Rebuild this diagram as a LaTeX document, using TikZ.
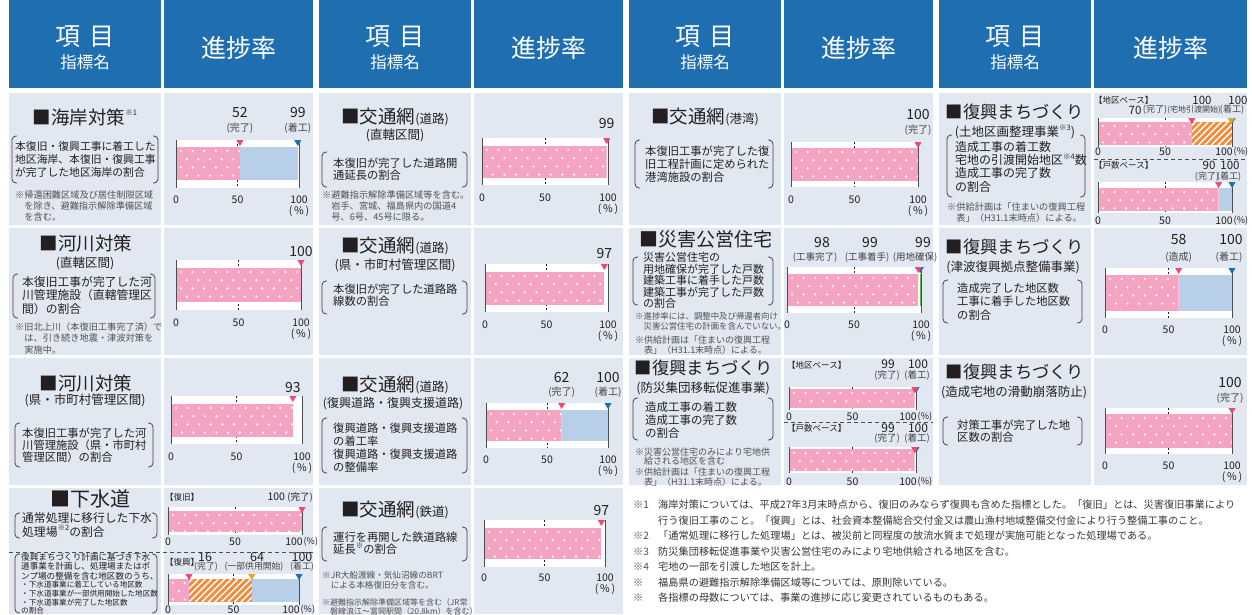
\documentclass[tikz,border=0pt]{standalone}
\usepackage{fontspec}
\setmainfont{Noto Sans CJK JP}
\usetikzlibrary{positioning}

\definecolor{headblue}{RGB}{31,111,176}
\definecolor{cellbg}{RGB}{225,232,242}
\definecolor{ink}{RGB}{35,31,32}
\definecolor{notegray}{RGB}{80,80,80}
\definecolor{pinkfill}{RGB}{244,164,192}
\definecolor{bluefill}{RGB}{184,207,234}
\definecolor{orangefill}{RGB}{241,140,60}
\definecolor{pinkmark}{RGB}{232,74,122}
\definecolor{bluemark}{RGB}{24,114,178}
\definecolor{orangemark}{RGB}{234,165,30}
\definecolor{greenmark}{RGB}{90,180,70}

\tikzset{
  cell/.style={fill=cellbg},
  headbig/.style={text=white, inner sep=0pt, font=\fontsize{25}{26}\selectfont},
  headsmall/.style={text=white, inner sep=0pt, font=\fontsize{16.5}{17}\selectfont},
  ttl/.style={text=ink, inner sep=0pt, font=\fontsize{18.5}{20}\selectfont},
  ttlm/.style={ttl, font=\fontsize{17.3}{19}\selectfont},
  sub/.style={text=ink, inner sep=0pt, font=\fontsize{12.5}{14}\selectfont},
  body/.style={text=ink, inner sep=0pt, align=left, anchor=north west, font=\fontsize{11.3}{12.5}\selectfont},
  note/.style={text=notegray, inner sep=0pt, align=left, anchor=north west, font=\fontsize{9.2}{11.3}\selectfont},
  num/.style={text=ink, inner sep=0pt, font=\fontsize{14}{15}\selectfont},
  vcap/.style={text=ink!85, inner sep=0pt, font=\fontsize{10}{11}\selectfont},
  tagl/.style={text=ink, inner sep=0pt, anchor=west, font=\fontsize{8.5}{9}\selectfont},
  axisnum/.style={text=ink, inner sep=0pt, font=\fontsize{10.5}{11}\selectfont},
  pct/.style={text=ink, inner sep=0pt, font=\fontsize{10.5}{11}\selectfont},
  brkline/.style={draw=ink!85, line width=0.8pt, rounded corners=4pt},
  tickline/.style={ink, dash pattern=on 2pt off 2pt, line width=0.7pt},
  axisline/.style={ink!80, line width=0.8pt},
  sepline/.style={ink!80, dash pattern=on 4pt off 3pt, line width=0.8pt},
  foot/.style={text=ink!90, inner sep=0pt, align=left, anchor=north west, font=\fontsize{10.2}{15.5}\selectfont}
}

\newcommand{\sups}[1]{\raisebox{0.45em}{\fontsize{7.5}{8}\selectfont #1}}
\newcommand{\tsub}[1]{{\fontsize{12.5}{13}\selectfont #1}}
\newcommand{\fmark}[1]{\makebox[25pt][l]{\textcolor{notegray}{#1}}}
\newcommand{\brk}[4]{%
  \draw[brkline] ({#1+5},#3) -- (#1,#3) -- (#1,#4) -- ({#1+5},#4);
  \draw[brkline] ({#2-5},#3) -- (#2,#3) -- (#2,#4) -- ({#2-5},#4);}
\newcommand{\vx}[1]{\cxa+(\cxb-\cxa)*#1/100}
\newcommand{\setchart}[7]{\def\cn{#1}\def\cxa{#2}\def\cxb{#3}\def\cyt{#4}\def\cyb{#5}\def\cbt{#6}\def\cbb{#7}%
  \fill[white] (\cxa,\cyt) rectangle (\cxb,\cyb);
  \draw[tickline] ({(\cxa+\cxb)/2},\cyt) -- ({(\cxa+\cxb)/2},\cyb);}
\newcommand{\closechart}{%
  \draw[axisline] (\cxa,\cyt) -- (\cxa,\cyb);
  \draw[axisline] (\cxb,\cyt) -- (\cxb,\cyb);}
\newcommand{\dotbar}[2]{%
  \begin{scope}
    \clip ({\vx{#1}},\cbt) rectangle ({\vx{#2}},\cbb);
    \fill[pinkfill] ({\vx{#1}},\cbt) rectangle ({\vx{#2}},\cbb);
    \foreach \dr in {0,...,4}{\foreach \dc in {0,...,11}{
      \fill[white] ({\cxa+5+11.6*\dc+5.8*mod(\dr,2)},{\cbt+4+8.2*\dr}) circle (1.2pt);}}
  \end{scope}}
\newcommand{\bluebar}[2]{\fill[bluefill] ({\vx{#1}},\cbt) rectangle ({\vx{#2}},\cbb);}
\newcommand{\hatchbar}[2]{%
  \begin{scope}
    \clip ({\vx{#1}},\cbt) rectangle ({\vx{#2}},\cbb);
    \fill[orangefill] ({\vx{#1}},\cbt) rectangle ({\vx{#2}},\cbb);
    \foreach \k in {-7,...,14}{
      \draw[white, line width=1.4pt] ({\vx{#1}+6.5*\k},\cbb) -- ({\vx{#1}+6.5*\k+\cbb-\cbt},\cbt);}
  \end{scope}}
\newcommand{\tri}[2]{\fill[#2] ({\vx{#1}-3.6},\cyt) -- ({\vx{#1}+3.6},\cyt) -- ({\vx{#1}},{\cyt+6}) -- cycle;}
\newcommand{\axisA}[1]{%
  \node[axisnum] (\cn-0) at (\cxa,#1) {0};
  \node[axisnum] (\cn-50) at ({(\cxa+\cxb)/2},#1) {50};
  \node[axisnum] (\cn-100) at (\cxb,#1) {100};
  \node[pct, below=1.5pt of \cn-100] (\cn-pc) {(\,\%\,)};}
\newcommand{\axisB}[1]{%
  \node[axisnum] (\cn-0) at (\cxa,#1) {0};
  \node[axisnum] (\cn-50) at ({(\cxa+\cxb)/2},#1) {50};
  \node[axisnum, anchor=east] (\cn-100) at ({\cxb+1},#1) {100};
  \node[pct, font=\fontsize{9}{10}\selectfont, right=0.5pt of \cn-100] (\cn-pc) {(\%)};}

\begin{document}
\begin{tikzpicture}[x=1pt,y=-1pt]
\useasboundingbox (0,0) rectangle (1252,614);
\fill[white] (0,0) rectangle (1252,614);

\foreach \gx/\gw in {9/304,319/304,629/304,939/308}{
  \fill[headblue] (\gx,0) rectangle ({\gx+152},88);
  \fill[headblue] ({\gx+155},0) rectangle ({\gx+\gw},88);
  \node[headbig] (hk\gx) at ({\gx+76},37) {項\hspace{0.35em}目};
  \node[headsmall] (hs\gx) at ({\gx+76},62) {指標名};
  \node[headbig] (hp\gx) at ({\gx+155+(\gw-155)/2},48) {進捗率};
}
\foreach \gx in {9,319}{\foreach \ya/\yb in {93/225,228/355,358/485,488/614}{
  \fill[cell] (\gx,\ya) rectangle ({\gx+152},\yb);
  \fill[cell] ({\gx+155},\ya) rectangle ({\gx+304},\yb);}}
\foreach \gx/\gw in {629/304,939/308}{\foreach \ya/\yb in {93/225,228/355,358/485}{
  \fill[cell] (\gx,\ya) rectangle ({\gx+152},\yb);
  \fill[cell] ({\gx+155},\ya) rectangle ({\gx+\gw},\yb);}}

% 海岸対策
\node[ttl] (t11) at (85,117) {■海岸対策\sups{※1}};
\brk{12}{158}{136}{183}
\node[body, font=\fontsize{10.8}{12.6}\selectfont] (b11) at (15,141.6) {本復旧・復興工事に着工した\\地区海岸、本復旧・復興工事\\が完了した地区海岸の割合};
\node[note] (n11) at (15,190.4) {※帰還困難区域及び居住制限区域\\\phantom{※}を除き、避難指示解除準備区域\\\phantom{※}を含む。};
\setchart{c11}{176}{299}{140}{188}{147}{180}
\dotbar{0}{52}\bluebar{52}{99}\closechart
\tri{52}{pinkmark}\tri{99}{bluemark}
\node[num] (c11-v1) at ({\vx{52}},113) {52};
\node[vcap] (c11-l1) at ({\vx{52}},128) {(完了)};
\node[num] (c11-v2) at ({\vx{99}},113) {99};
\node[vcap] (c11-l2) at ({\vx{99}},128) {(着工)};
\axisA{200}

% 河川対策（直轄）
\node[ttl] (t12) at (86,243) {■河川対策};
\node[sub] (s12) at (85,263) {(直轄区間)};
\brk{13}{155}{274}{318}
\node[body, font=\fontsize{11.8}{13.5}\selectfont] (b12) at (22,276.1) {本復旧工事が完了した河\\川管理施設（直轄管理区\\間）の割合};
\node[note] (n12) at (15,322.4) {※旧北上川（本復旧工事完了済）で\\\phantom{※}は、引き続き地震・津波対策を\\\phantom{※}実施中。};
\setchart{c12}{176}{301}{260}{310}{268}{302}
\dotbar{0}{100}\closechart
\tri{100}{pinkmark}
\node[num] (c12-v1) at ({\vx{100}},252) {100};
\axisA{323}

% 河川対策（県・市町村）
\node[ttl] (t13) at (86,383) {■河川対策};
\node[sub] (s13) at (85,400) {(県・市町村管理区間)};
\brk{15}{153}{423}{467}
\node[body, font=\fontsize{11.3}{12}\selectfont] (b13) at (22,427.4) {本復旧工事が完了した河\\川管理施設（県・市町村\\管理区間）の割合};
\setchart{c13}{171}{302}{396}{444}{404}{437}
\dotbar{0}{93}\closechart
\tri{93}{pinkmark}
\node[num] (c13-v1) at ({\vx{93}},387) {93};
\axisA{457}

% 下水道
\node[ttl, font=\fontsize{20}{22}\selectfont] (t14) at (90,499) {■下水道};
\brk{15}{157}{513}{538}
\node[body, font=\fontsize{11.8}{14}\selectfont] (b14) at (22,512.1) {通常処理に移行した下水\\処理場\sups{※2}の割合};
\draw[sepline] (9,552) -- (313,552);
\brk{15}{157}{554}{613}
\node[body, font=\fontsize{8.6}{9.5}\selectfont] (b15) at (21,552.7) {復興まちづくり計画に基づき下水\\道事業を計画し、処理場またはポ\\ンプ場の整備を含む地区数のうち、};
\node[body, font=\fontsize{7.6}{8.6}\selectfont] (b16) at (21,581.2) {・下水道事業に着工している地区数\\・下水道事業が一部供用開始した地区数\\・下水道事業が完了した地区数\\の割合};
\node[tagl] (c14-tag) at (165,497) {【復旧】};
\node[axisnum, anchor=east] (c14-v1) at (313,497) {100 {\fontsize{9.5}{10}\selectfont(完了)}};
\setchart{c14}{168}{302}{507}{535}{511}{532}
\dotbar{0}{100}\closechart
\tri{100}{pinkmark}
\axisB{542}
\node[tagl] (c15-tag) at (165,562) {【復興】};
\setchart{c15}{168}{299}{574}{605}{579}{602}
\dotbar{0}{16}\hatchbar{16}{64}\bluebar{64}{100}\closechart
\tri{16}{pinkmark}\tri{64}{orangemark}\tri{100}{bluemark}
\node[num, font=\fontsize{12.5}{13}\selectfont] (c15-v1) at (205,557) {16};
\node[vcap, font=\fontsize{8.8}{9}\selectfont] (c15-l1) at (206,567) {(完了)};
\node[num, font=\fontsize{12.5}{13}\selectfont] (c15-v2) at (257,557) {64};
\node[vcap, font=\fontsize{8.8}{9}\selectfont] (c15-l2) at (254,567) {(一部供用開始)};
\node[num, font=\fontsize{12.5}{13}\selectfont] (c15-v3) at (302,557) {100};
\node[vcap, font=\fontsize{8.8}{9}\selectfont] (c15-l3) at (302,567) {(着工)};
\axisB{610}

% 交通網（道路・直轄）
\node[ttl] (t21) at (395,117) {■交通網\tsub{(道路)}};
\node[sub] (s21) at (395,135) {(直轄区間)};
\brk{322}{467}{152}{187}
\node[body] (b21) at (333,157.3) {本復旧が完了した道路開\\通延長の割合};
\node[note] (n21) at (322,190.4) {※避難指示解除準備区域等を含む。\\\phantom{※}岩手、宮城、福島県内の国道4\\\phantom{※}号、6号、45号に限る。};
\setchart{c21}{482}{608}{138}{185}{146}{178}
\dotbar{0}{99}\closechart
\tri{99}{pinkmark}
\node[num] (c21-v1) at ({\vx{99}},124) {99};
\axisA{198}

% 交通網（道路・県市町村）
\node[ttl] (t22) at (395,246) {■交通網\tsub{(道路)}};
\node[sub] (s22) at (395,265) {(県・市町村管理区間)};
\brk{322}{467}{281}{314}
\node[body] (b22) at (333,283.4) {本復旧が完了した道路路\\線数の割合};
\setchart{c22}{485}{608}{264}{312}{272}{305}
\dotbar{0}{97}\closechart
\tri{97}{pinkmark}
\node[num] (c22-v1) at ({\vx{97}},254) {97};
\axisA{325}

% 交通網（復興道路）
\node[ttl] (t23) at (395,385) {■交通網\tsub{(道路)}};
\node[sub, font=\fontsize{12}{13}\selectfont] (s23) at (393,404) {(復興道路・復興支援道路)};
\brk{322}{467}{418}{473}
\node[body, font=\fontsize{11.3}{13}\selectfont] (b23) at (333,422.4) {復興道路・復興支援道路\\の着工率\\復興道路・復興支援道路\\の整備率};
\setchart{c23}{486}{608}{403}{448}{410}{441}
\dotbar{0}{62}\bluebar{62}{100}\closechart
\tri{62}{pinkmark}\tri{100}{bluemark}
\node[num] (c23-v1) at ({\vx{62}},377) {62};
\node[vcap] (c23-l1) at ({\vx{62}},392) {(完了)};
\node[num] (c23-v2) at ({\vx{100}},377) {100};
\node[vcap] (c23-l2) at ({\vx{100}},392) {(着工)};
\axisA{460}

% 交通網（鉄道）
\node[ttl] (t24) at (395,510) {■交通網\tsub{(鉄道)}};
\brk{322}{467}{527}{561}
\node[body] (b24) at (333,531.4) {運行を再開した鉄道路線\\延長\sups{※}の割合};
\node[note, font=\fontsize{8.6}{10.5}\selectfont] (n24) at (322,570.7) {※JR大船渡線・気仙沼線のBRT\\\phantom{※}による本格復旧分を含む。};
\node[note, font=\fontsize{8}{9}\selectfont] (n25) at (322,598) {※避難指示解除準備区域等を含む（JR常\\\phantom{※}磐線浪江～富岡駅間（20.8km）を含む）};
\setchart{c24}{484}{605}{520}{567}{528}{559}
\dotbar{0}{97}\closechart
\tri{97}{pinkmark}
\node[num] (c24-v1) at ({\vx{97}},510) {97};
\axisA{578}

% 交通網（港湾）
\node[ttl] (t31) at (705,117) {■交通網\tsub{(港湾)}};
\brk{635}{773}{140}{188}
\node[body, font=\fontsize{11.3}{13}\selectfont] (b31) at (645,145.4) {本復旧工事が完了した復\\旧工程計画に定められた\\港湾施設の割合};
\setchart{c31}{791}{918}{142}{187}{148}{181}
\dotbar{0}{100}\closechart
\tri{100}{pinkmark}
\node[num] (c31-v1) at ({\vx{100}},115) {100};
\node[vcap] (c31-l1) at ({\vx{100}},130) {(完了)};
\axisA{200}

% 災害公営住宅
\node[ttl, font=\fontsize{19}{20}\selectfont] (t32) at (706,239) {■災害公営住宅};
\brk{633}{773}{257}{305}
\node[body, font=\fontsize{11}{11.5}\selectfont] (b32) at (643,252.5) {災害公営住宅の\\用地確保が完了した戸数\\建築工事に着手した戸数\\建築工事が完了した戸数\\の割合};
\node[note, font=\fontsize{8.4}{10}\selectfont] (n32) at (635,311.8) {※進捗率には、調整中及び帰還者向け\\\phantom{※}災害公営住宅の計画を含んでいない。};
\node[note, font=\fontsize{9}{10}\selectfont] (n33) at (635,335.5) {※供給計画は「住まいの復興工程\\\phantom{※}表」（H31.1末時点）による。};
\setchart{c32}{787}{921}{267}{313}{274}{306}
\dotbar{0}{98}\closechart
\draw[greenmark, line width=1pt] ({\vx{99.5}},\cbt) -- ({\vx{99.5}},\cbb);
\tri{99.5}{bluemark}\tri{98}{pinkmark}
\node[num] (c32-v1) at (822,243) {98};
\node[num] (c32-v2) at (870,243) {99};
\node[num] (c32-v3) at (923,243) {99};
\node[vcap, font=\fontsize{9.5}{10}\selectfont] (c32-l1) at (815,257) {(工事完了)};
\node[vcap, font=\fontsize{9.5}{10}\selectfont] (c32-l2) at (867,257) {(工事着手)};
\node[vcap, font=\fontsize{9.5}{10}\selectfont] (c32-l3) at (915,257) {(用地確保)};
\axisA{325}

% 復興まちづくり（防災集団移転）
\node[ttlm] (t33) at (704,368) {■復興まちづくり};
\node[sub] (s33) at (703,388) {(防災集団移転促進事業)};
\brk{633}{773}{398}{440}
\node[body, font=\fontsize{11.5}{13}\selectfont] (b33) at (645,401.2) {造成工事の着工数\\造成工事の完了数\\の割合};
\node[note, font=\fontsize{9}{9.5}\selectfont] (n34) at (635,447.5) {※災害公営住宅のみにより宅地供\\\phantom{※}給される地区を含む};
\node[note, font=\fontsize{9}{10}\selectfont] (n35) at (635,467.5) {※供給計画は「住まいの復興工程\\\phantom{※}表」（H31.1末時点）による。};
\node[tagl] (c33-tag) at (787,365) {【地区ベース】};
\setchart{c33}{789}{916}{387}{410}{389}{408}
\dotbar{0}{99}\closechart
\tri{100}{bluemark}\tri{99}{pinkmark}
\node[num, font=\fontsize{12}{13}\selectfont] (c33-v1) at (888,364) {99};
\node[num, font=\fontsize{12}{13}\selectfont] (c33-v2) at (918,364) {100};
\node[vcap, font=\fontsize{9.5}{10}\selectfont] (c33-l1) at (887,375) {(完了)};
\node[vcap, font=\fontsize{9.5}{10}\selectfont] (c33-l2) at (917,375) {(着工)};
\axisB{417}
\draw[sepline] (784,422) -- (933,422);
\node[tagl] (c34-tag) at (787,428) {【戸数ベース】};
\setchart{c34}{789}{916}{447}{473}{449}{471}
\dotbar{0}{99}\closechart
\tri{100}{bluemark}\tri{99}{pinkmark}
\node[num, font=\fontsize{12}{13}\selectfont] (c34-v1) at (888,428) {99};
\node[num, font=\fontsize{12}{13}\selectfont] (c34-v2) at (918,428) {100};
\node[vcap, font=\fontsize{9.5}{10}\selectfont] (c34-l1) at (887,438) {(完了)};
\node[vcap, font=\fontsize{9.5}{10}\selectfont] (c34-l2) at (917,438) {(着工)};
\axisB{482}

% 復興まちづくり（土地区画整理）
\node[ttlm] (t41) at (1015,112) {■復興まちづくり};
\node[sub] (s41) at (1015,132) {(土地区画整理事業\sups{※3})};
\brk{947}{1085}{135}{197}
\node[body, font=\fontsize{12}{13.3}\selectfont] (b41) at (955,141) {造成工事の着工数\\宅地の引渡開始地区\sups{※4}数\\造成工事の完了数\\の割合};
\node[note] (n41) at (947,202.4) {※供給計画は「住まいの復興工程\\\phantom{※}表」（H31.1末時点）による。};
\node[tagl] (c41-tag) at (1094,100) {【地区ベース】};
\setchart{c41}{1098}{1232}{118}{147}{122}{145}
\dotbar{0}{70}\hatchbar{70}{100}\closechart
\tri{70}{pinkmark}\tri{100}{bluemark}\tri{99.3}{orangemark}
\node[num, font=\fontsize{11.5}{12}\selectfont] (c41-v2) at (1202,100) {100};
\node[num, font=\fontsize{11.5}{12}\selectfont] (c41-v3) at (1238,100) {100};
\node[num, font=\fontsize{11.5}{12}\selectfont] (c41-v1) at (1135,110) {70};
\node[vcap, font=\fontsize{9}{10}\selectfont] (c41-l1) at (1155,110) {(完了)};
\node[vcap, font=\fontsize{8}{9}\selectfont] (c41-l2) at (1194,110) {(宅地引渡開始)};
\node[vcap, font=\fontsize{9}{10}\selectfont] (c41-l3) at (1232,110) {(着工)};
\axisB{152}
\draw[sepline] (1094,159) -- (1247,159);
\node[tagl] (c42-tag) at (1094,165) {【戸数ベース】};
\setchart{c42}{1098}{1232}{182}{213}{188}{211}
\dotbar{0}{90}\bluebar{90}{100}\closechart
\tri{90}{pinkmark}\tri{100}{bluemark}
\node[num, font=\fontsize{11.5}{12}\selectfont] (c42-v1) at (1209,165) {90};
\node[num, font=\fontsize{11.5}{12}\selectfont] (c42-v2) at (1230,165) {100};
\node[vcap, font=\fontsize{9}{10}\selectfont] (c42-l1) at (1207,177) {(完了)};
\node[vcap, font=\fontsize{9}{10}\selectfont] (c42-l2) at (1229,177) {(着工)};
\axisB{221}

% 復興まちづくり（津波復興拠点）
\node[ttlm] (t42) at (1015,247) {■復興まちづくり};
\node[sub] (s42) at (1013,267) {(津波復興拠点整備事業)};
\brk{943}{1082}{280}{323}
\node[body, font=\fontsize{11.3}{13.5}\selectfont] (b42) at (957,282.4) {造成完了した地区数\\工事に着手した地区数\\の割合};
\setchart{c43}{1105}{1232}{268}{318}{275}{311}
\dotbar{0}{58}\bluebar{58}{100}\closechart
\tri{58}{pinkmark}\tri{100}{bluemark}
\node[num] (c43-v1) at ({\vx{58}},240) {58};
\node[vcap] (c43-l1) at ({\vx{58}},257) {(造成)};
\node[num] (c43-v2) at (1231,240) {100};
\node[vcap] (c43-l2) at (1229,257) {(着工)};
\axisA{330}

% 復興まちづくり（滑動崩落防止）
\node[ttlm] (t43) at (1015,372) {■復興まちづくり};
\node[sub] (s43) at (1014,392) {(造成宅地の滑動崩落防止)};
\brk{943}{1082}{417}{445}
\node[body, font=\fontsize{11.3}{12}\selectfont] (b43) at (957,419.4) {対策工事が完了した地\\区数の割合};
\setchart{c44}{1105}{1232}{408}{454}{414}{448}
\dotbar{0}{100}\closechart
\tri{100}{pinkmark}
\node[num] (c44-v1) at (1230,382) {100};
\node[vcap] (c44-l1) at (1230,398) {(完了)};
\axisA{466}

% 注記
\node[foot] (foot) at (633,499.9) {\fmark{※1}海岸対策については、平成27年3月末時点から、復旧のみならず復興も含めた指標とした。「復旧」とは、災害復旧事業により\\\fmark{}行う復旧工事のこと。「復興」とは、社会資本整備総合交付金又は農山漁村地域整備交付金により行う整備工事のこと。\\\fmark{※2}「通常処理に移行した処理場」とは、被災前と同程度の放流水質まで処理が実施可能となった処理場である。\\\fmark{※3}防災集団移転促進事業や災害公営住宅のみにより宅地供給される地区を含む。\\\fmark{※4}宅地の一部を引渡した地区を計上。\\\fmark{※}福島県の避難指示解除準備区域等については、原則除いている。\\\fmark{※}各指標の母数については、事業の進捗に応じ変更されているものもある。};
\end{tikzpicture}
\end{document}
